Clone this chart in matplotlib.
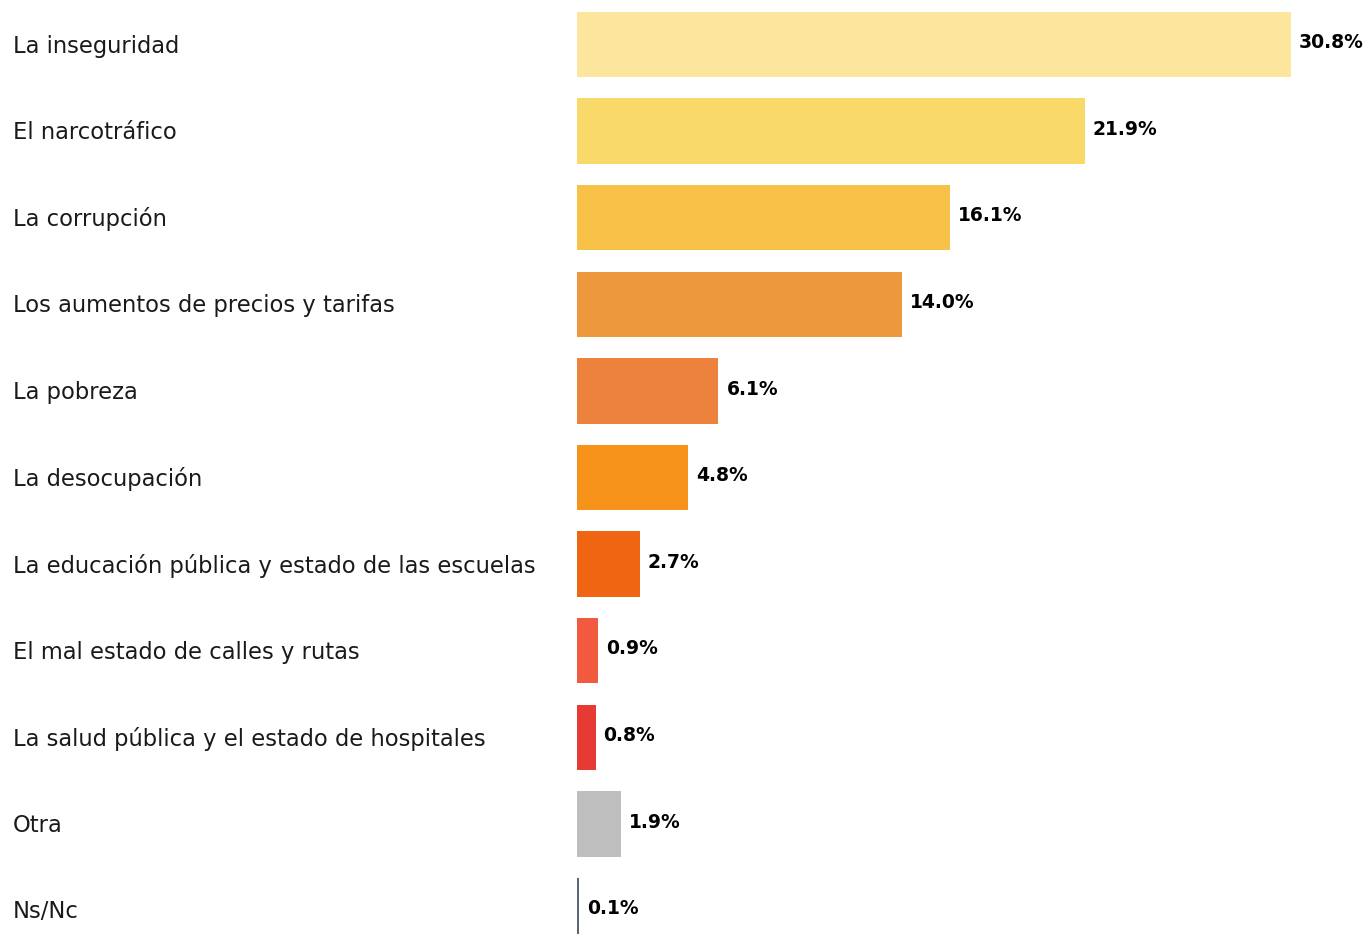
import matplotlib
matplotlib.use("Agg")
import matplotlib.pyplot as plt

categories = [
    "La inseguridad",
    "El narcotráfico",
    "La corrupción",
    "Los aumentos de precios y tarifas",
    "La pobreza",
    "La desocupación",
    "La educación pública y estado de las escuelas",
    "El mal estado de calles y rutas",
    "La salud pública y el estado de hospitales",
    "Otra",
    "Ns/Nc",
]
values = [30.8, 21.9, 16.1, 14.0, 6.1, 4.8, 2.7, 0.9, 0.8, 1.9, 0.1]
colors = ["#FCE59C", "#F9D96A", "#F7C046", "#EE983E", "#EC823C", "#F7921A",
          "#F06512", "#F15A3E", "#E83A35", "#BEBEBE", "#5B6575"]

plt.rcParams['font.family'] = ['DejaVu Sans']

fig = plt.figure(figsize=(13.67, 9.34), dpi=100)
left = 577 / 1367
ax = fig.add_axes([left, 0, 1 - left, 1])
px_per_unit = 714 / 30.8
ax.set_xlim(0, (1367 - 577) / px_per_unit)
spacing = 86.6
ax.set_ylim((934 - 44.5) / spacing, -44.5 / spacing)

ypos = list(range(len(categories)))
ax.barh(ypos, values, height=0.755, color=colors)
for y, v, c in zip(ypos, values, categories):
    ax.text(v + 8 / px_per_unit, y - 0.02, f"{v:.1f}%", ha="left", va="center",
            fontsize=13.5, fontweight="bold", color="#000000")
    fig.text(13 / 1367, 1 - (46 + spacing * y) / 934, c, ha="left", va="center",
             fontsize=16.3, color="#1a1a1a")

ax.axis("off")
fig.savefig("out.png", dpi=100)
